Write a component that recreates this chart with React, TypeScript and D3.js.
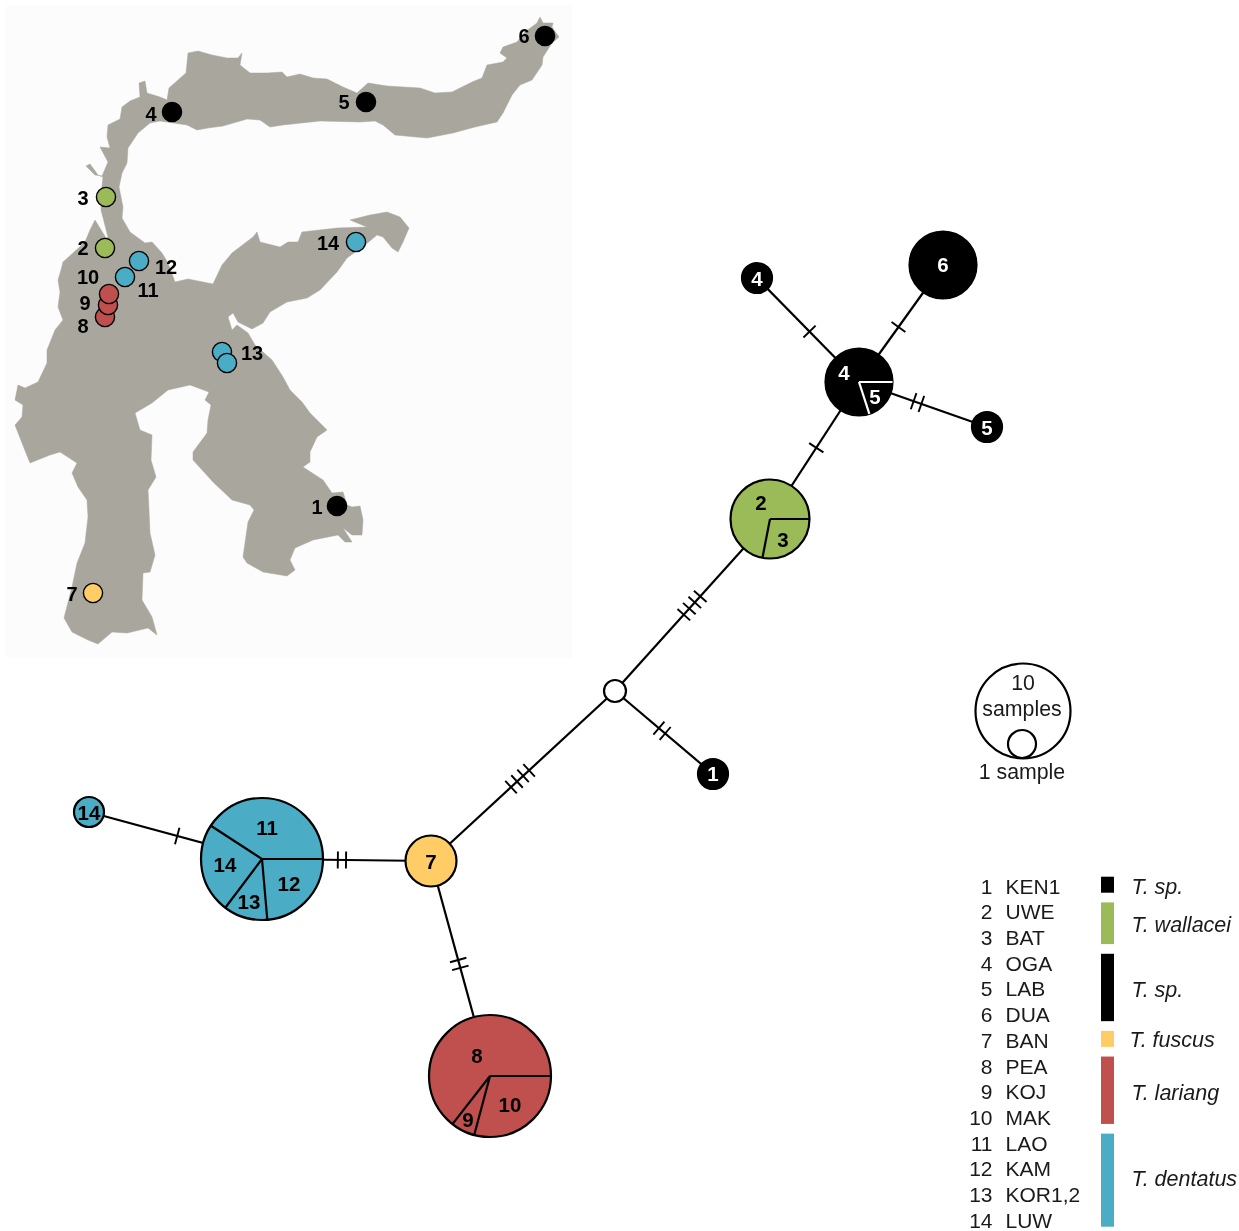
import React from "react";
import * as d3 from "d3";

// ---- map outline (clockwise from the west coast)
const coastWestToNorthTip: [number, number][] = [
  [55,330],[63,320],[58,307],[60,292],[58,280],[61,270],[63,262],[73,253],[85,242],[90,230],[95,220],[106,238],[108,237],[101,210],[101,195],[103,177],[98,175],[90,164],[86,166],[95,175],[102,176],[108,162],[100,147],[110,148],[107,137],[108,125],[120,119],[122,107],[130,101],[140,97],[139,83],[145,81],[147,93],[160,97],[167,100],[169,88],[178,80],[186,73],[188,53],[198,51],[212,55],[227,58],[238,58],[242,53],[240,65],[250,73],[267,73],[282,72],[287,77],[300,74],[313,78],[327,79],[343,87],[357,93],[368,83],[387,86],[420,88],[435,93],[452,92],[472,82],[482,78],[487,65],[503,62],[507,58],[500,53],[503,47],[517,42],[525,32],[537,23],[540,17],[543,23],[553,23],[552,27],[559,37],[552,43],[543,57],[542,65],[532,80],[520,85],[512,95],[503,113],[497,122],[475,127],[453,133],[427,138],[395,135],[383,125],[375,121],
];
const coastNorthArmSouthSide: [number, number][] = [
  [360,122],[320,121],[283,125],[270,127],[260,120],[247,119],[223,126],[208,128],[197,130],[187,125],[160,121],[150,123],[138,133],[128,148],[127,163],[122,173],[119,187],[123,207],[122,218],[130,232],[145,243],[152,242],[162,253],[168,263],[175,282],[188,279],[213,284],[222,265],[232,253],[253,237],[257,232],[260,242],[280,247],[288,242],[298,242],[302,232],[337,228],[367,227],[350,220],[370,215],[387,212],[400,217],[409,228],[403,242],[398,252],[392,248],[383,237],[377,235],[365,245],[347,258],[337,272],[320,290],[307,298],[287,302],[270,312],[263,323],[252,329],[238,322],[233,313],[228,317],[232,330],[237,325],[248,333],[255,345],
];
const coastSouthEastArm: [number, number][] = [
  [272,360],[283,377],[290,390],[302,402],[310,413],[327,430],[317,437],[310,452],[310,462],[303,467],[323,480],[332,493],[343,492],[347,505],[352,507],[360,506],[363,520],[362,535],[352,535],[343,528],[352,542],[345,542],[338,535],[313,540],[295,548],[290,560],[295,570],[287,576],[263,572],[247,563],[243,557],[248,522],[254,510],[250,505],[232,500],[213,482],[193,460],[193,452],[207,433],[208,420],[211,405],[205,400],[209,392],[190,385],[168,390],[152,403],[135,413],
];
const coastSouthArm: [number, number][] = [
  [140,430],[152,435],[151,460],[156,477],[148,490],[149,510],[150,533],[155,555],[150,572],[143,573],[142,600],[152,617],[157,635],[148,628],[127,633],[112,632],[98,644],[88,640],[72,632],[64,618],[72,587],[77,563],[85,543],[88,517],[87,500],[78,487],[72,473],[77,463],[60,452],[50,455],[30,463],[22,443],[15,425],[22,417],[23,405],[15,400],[18,385],[25,388],[38,382],[47,363],[47,350],
];

const BLACK = "#000000", GREEN = "#9BBB59", BLUE = "#4BACC6", RED = "#C0504D", YELLOW = "#FFCC66";

// ---- sampling sites on the map
const siteNames = ["8","9","10","3","2","12","11","14","13","13","1","7","6","5","4"];
const siteLon = [105,108,109,106,105,139,125,356,222,227,337,93,545,366,172];
const siteLat = [317,305,294,197,248,261,277,242,352,363,506,593,36,102,112];
const siteColor = [RED,RED,RED,GREEN,GREEN,BLUE,BLUE,BLUE,BLUE,BLUE,BLACK,YELLOW,BLACK,BLACK,BLACK];
const siteLabelText = ["6","5","4","3","2","12","11","10","9","8","14","13","1","7"];
const siteLabelX = [524,344,151,83,83,166,148,88,85,83,328,252,317,72];
const siteLabelY = [36,102,114,198,248,267,290,277,303,326,243,353,507,594];

// ---- haplotype network
type Node = { id: string; x: number; y: number; r: number; color: string; shares: number[]; line: string };
const nodes: Node[] = [
  { id: "hub", x: 615, y: 691, r: 11, color: "#ffffff", shares: [1], line: BLACK },
  { id: "s1", x: 713, y: 774, r: 15, color: BLACK, shares: [1], line: BLACK },
  { id: "p23", x: 770, y: 519, r: 39.5, color: GREEN, shares: [101, 259], line: BLACK },
  { id: "p45", x: 859, y: 382, r: 33.5, color: BLACK, shares: [72, 288], line: "#ffffff" },
  { id: "s6", x: 943, y: 265, r: 33.5, color: BLACK, shares: [1], line: BLACK },
  { id: "s4", x: 757, y: 278, r: 15, color: BLACK, shares: [1], line: BLACK },
  { id: "s5", x: 987, y: 427, r: 15, color: BLACK, shares: [1], line: BLACK },
  { id: "s7", x: 431, y: 861, r: 25.5, color: YELLOW, shares: [1], line: BLACK },
  { id: "p1114", x: 262, y: 859, r: 61, color: BLUE, shares: [85, 42, 86, 147], line: BLACK },
  { id: "p810", x: 490, y: 1076, r: 61, color: RED, shares: [105, 23, 232], line: BLACK },
  { id: "s14", x: 89, y: 812, r: 15, color: BLUE, shares: [1], line: BLACK },
];
const edgeFrom = ["hub","hub","hub","s7","s7","s14","p23","p45","p45","p45"];
const edgeTo = ["p23","s7","s1","p810","p1114","p1114","p45","s4","s6","s5"];
const edgeMutations = [4,4,2,2,2,1,1,1,1,2];
const edgeMarkAt = [0.497,0.516,0.48,0.479,0.527,0.51,0.52,0.485,0.47,0.457];

const nodeLabelText = ["1","2","3","4","5","6","4","5","7","11","12","13","14","8","9","10","14"];
const nodeLabelX = [713,761,783,844,875,943,757,987,431,267,289,249,225,477,468,510,89];
const nodeLabelY = [774,503,540,373,397,265,279,428,862,828,884,902,865,1056,1120,1105,813];
const nodeLabelFill = ["#fff","#000","#000","#fff","#fff","#fff","#fff","#fff","#000","#000","#000","#000","#000","#000","#000","#000","#000"];

// ---- legend
const rowNumber = ["1","2","3","4","5","6","7","8","9","10","11","12","13","14"];
const rowCode = ["KEN1","UWE","BAT","OGA","LAB","DUA","BAN","PEA","KOJ","MAK","LAO","KAM","KOR1,2","LUW"];
const speciesName = ["T. sp.","T. wallacei","T. sp.","T. fuscus","T. lariang","T. dentatus"];
const speciesFirst = [0,1,3,6,7,10];
const speciesLast = [0,2,5,6,9,13];
const speciesColor = [BLACK,GREEN,BLACK,YELLOW,RED,BLUE];
const speciesBaseline = [894,932,997,1047,1100,1186];
const speciesLeft = [1132,1132,1132,1130,1132,1132];

const FONT = "'Liberation Sans', Arial, sans-serif";

export default function App() {
  const mapX = d3.scaleIdentity();
  const mapY = d3.scaleIdentity();
  const coast = [...coastWestToNorthTip, ...coastNorthArmSouthSide, ...coastSouthEastArm, ...coastSouthArm];
  const coastPath = d3.line<[number, number]>().x(d => mapX(d[0])).y(d => mapY(d[1])).curve(d3.curveLinearClosed)(coast)!;

  const netX = d3.scaleIdentity();
  const netY = d3.scaleIdentity();
  const byId = new Map(nodes.map(n => [n.id, n]));
  const rowBaseline = d3.scaleLinear().domain([0, 13]).range([893.7, 1227.7]);

  const pie = d3.pie<number>().sort(null).value(d => d).startAngle(Math.PI / 2).endAngle(Math.PI / 2 + 2 * Math.PI);

  return (
    <svg width={1239} height={1231} viewBox="0 0 1239 1231" style={{ position: "absolute", left: 0, top: 0, display: "block", filter: "blur(0.35px)" }} fontFamily={FONT}>
      <rect width={1239} height={1231} fill="#ffffff" />
      <rect x={6} y={5} width={566} height={653} fill="#fcfcfc" />
      <path d={coastPath} fill="#A9A79D" stroke="#A9A79D" strokeWidth={0.5} strokeLinejoin="round" />

      {siteNames.map((_, i) => (
        <circle key={i} cx={mapX(siteLon[i])} cy={mapY(siteLat[i])} r={9.6} fill={siteColor[i]} stroke="#000" strokeWidth={1.4} />
      ))}
      {siteLabelText.map((t, i) => (
        <text key={i} x={siteLabelX[i]} y={siteLabelY[i]} dy="0.36em" textAnchor="middle" fontSize={20} fontWeight={700} fill="#000">{t}</text>
      ))}

      {edgeFrom.map((f, i) => {
        const a = byId.get(f)!, b = byId.get(edgeTo[i])!;
        const x1 = netX(a.x), y1 = netY(a.y), x2 = netX(b.x), y2 = netY(b.y);
        const len = Math.hypot(x2 - x1, y2 - y1);
        const ux = (x2 - x1) / len, uy = (y2 - y1) / len;
        const n = edgeMutations[i];
        const cx = x1 + (x2 - x1) * edgeMarkAt[i], cy = y1 + (y2 - y1) * edgeMarkAt[i];
        return (
          <g key={i} stroke="#000">
            <line x1={x1} y1={y1} x2={x2} y2={y2} strokeWidth={2.2} />
            {d3.range(n).map(k => {
              const off = (k - (n - 1) / 2) * 8.2;
              const mx = cx + ux * off, my = cy + uy * off;
              return <line key={k} x1={mx - uy * 8.5} y1={my + ux * 8.5} x2={mx + uy * 8.5} y2={my - ux * 8.5} strokeWidth={1.9} />;
            })}
          </g>
        );
      })}

      {nodes.map(n => {
        const slices = pie(n.shares);
        const cx = netX(n.x), cy = netY(n.y);
        const spoke = (a: number): [number, number] => [cx + n.r * Math.sin(a), cy - n.r * Math.cos(a)];
        return (
          <g key={n.id}>
            <circle cx={cx} cy={cy} r={n.r} fill={n.color} stroke="#000" strokeWidth={2.2} />
            {n.shares.length > 1 && slices.map((s, i) => {
              const [ex, ey] = spoke(s.startAngle);
              return <line key={i} x1={cx} y1={cy} x2={ex} y2={ey} stroke={n.line} strokeWidth={2.2} />;
            })}
          </g>
        );
      })}
      {nodeLabelText.map((t, i) => (
        <text key={i} x={nodeLabelX[i]} y={nodeLabelY[i]} dy="0.36em" textAnchor="middle" fontSize={20.5} fontWeight={700} fill={nodeLabelFill[i]}>{t}</text>
      ))}

      {/* size key */}
      <circle cx={1023} cy={711} r={47.5} fill="#fff" stroke="#000" strokeWidth={2.2} />
      <circle cx={1022} cy={744} r={14} fill="#fff" stroke="#000" strokeWidth={2.2} />
      <text x={1023} y={690} textAnchor="middle" fontSize={21.3} fill="#1a1a1a">10</text>
      <text x={1022} y={716} textAnchor="middle" fontSize={21.3} fill="#1a1a1a">samples</text>
      <text x={1022} y={779} textAnchor="middle" fontSize={21.3} fill="#1a1a1a">1 sample</text>

      {/* population list */}
      {rowNumber.map((t, i) => (
        <g key={i} fontSize={21} fill="#1a1a1a">
          <text x={992.5} y={rowBaseline(i)} textAnchor="end">{t}</text>
          <text x={1005.5} y={rowBaseline(i)}>{rowCode[i]}</text>
        </g>
      ))}
      {speciesName.map((t, i) => {
        const top = rowBaseline(speciesFirst[i]) - 17;
        const bottom = rowBaseline(speciesLast[i]) - 1;
        return (
          <g key={i}>
            <rect x={1101} y={top} width={13} height={bottom - top} fill={speciesColor[i]} />
            <text x={speciesLeft[i] - 0.5} y={speciesBaseline[i]} fontSize={21.5} fontStyle="italic" fill="#1a1a1a">{t}</text>
          </g>
        );
      })}
    </svg>
  );
}
